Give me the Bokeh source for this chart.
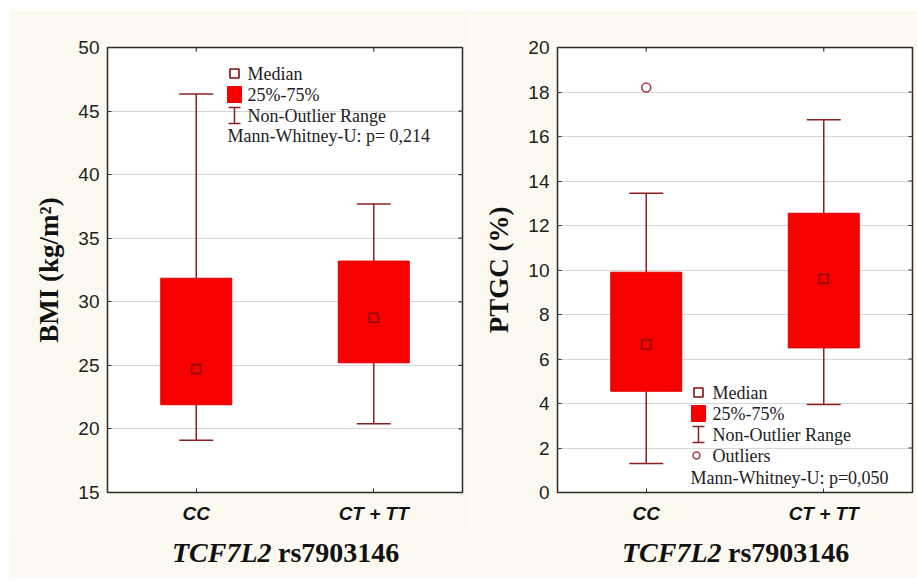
import math
from bokeh.plotting import figure
from bokeh.layouts import row, column
from bokeh.models import (Range1d, Whisker, TeeHead, ColumnDataSource, Label, FixedTicker)
from bokeh.core.properties import value
from bokeh.embed import file_html
from bokeh.resources import INLINE

# ---------------- data ----------------
categories = ["CC", "CT + TT"]

bmi_min = [19.1, 20.4]
bmi_q1 = [21.9, 25.2]
bmi_median = [24.7, 28.75]
bmi_q3 = [31.85, 33.2]
bmi_max = [46.35, 37.7]
bmi_ticks = [15, 20, 25, 30, 35, 40, 45, 50]

ptgc_min = [1.3, 3.95]
ptgc_q1 = [4.55, 6.5]
ptgc_median = [6.65, 9.6]
ptgc_q3 = [9.9, 12.55]
ptgc_max = [13.45, 16.75]
ptgc_outlier_cat = ["CC"]
ptgc_outlier_val = [18.2]
ptgc_ticks = [0, 2, 4, 6, 8, 10, 12, 14, 16, 18, 20]

gene_name = "TCF7L2"
snp_name = "rs7903146"

# category positions on the x scale (centre of each category slot)
cat_pos = [i + 0.5 for i in range(len(categories))]
cat_index = {c: x for c, x in zip(categories, cat_pos)}

# ---------------- styles ----------------
BG = "#fcf9f0"
RED = "#f60000"
DARK = "#8b2020"
MED = "#8a0c0c"
OUTC = "#a0404a"
TICKC = "#333333"
SERIF = "Liberation Serif"
SANS = "Liberation Sans"

FRAME_W, FRAME_H = 355, 445
PANEL_H = 520
TOP_B, BOT_B = 37, 38


def make_panel(width, left, right, ylabel, yr, ticks, mn, q1, med, q3, mx, legend, ptext,
               outl=None):
    p = figure(width=width, height=PANEL_H, x_range=Range1d(0, len(categories)),
               y_range=Range1d(*yr), output_backend="svg", toolbar_location=None,
               min_border_left=left, min_border_right=right, min_border_top=TOP_B,
               min_border_bottom=BOT_B)
    p.background_fill_color = "white"
    p.border_fill_color = BG
    p.outline_line_color = "#2a2a2a"
    p.outline_line_width = 1.5
    p.xgrid.visible = False
    p.ygrid.grid_line_color = "#d6d6d6"
    p.ygrid.grid_line_width = 1

    yax = p.yaxis[0]
    yax.ticker = FixedTicker(ticks=ticks)
    yax.axis_label = ylabel
    yax.axis_label_text_font = SERIF
    yax.axis_label_text_font_style = "bold"
    yax.axis_label_text_font_size = "27px"
    yax.axis_label_text_color = "#111111"
    yax.axis_label_standoff = 11
    yax.major_label_text_font = SANS
    yax.major_label_text_font_size = "19px"
    yax.major_label_text_color = "#222222"
    yax.major_label_standoff = 8
    yax.major_tick_in = 4
    yax.major_tick_out = 0
    yax.minor_tick_line_color = None
    yax.axis_line_color = None
    yax.major_tick_line_color = TICKC

    xax = p.xaxis[0]
    xax.ticker = FixedTicker(ticks=cat_pos)
    xax.major_label_overrides = {x: c for x, c in zip(cat_pos, categories)}
    xax.major_label_text_font = SANS
    xax.major_label_text_font_style = "bold italic"
    xax.major_label_text_font_size = "19px"
    xax.major_label_text_color = "#111111"
    xax.major_label_standoff = 10
    xax.major_tick_in = 4
    xax.major_tick_out = 0
    xax.minor_tick_line_color = None
    xax.axis_line_color = None
    xax.major_tick_line_color = TICKC

    # inward ticks on the top and right frame edges (half of each dash is clipped away)
    p.scatter(x=cat_pos, y=[yr[1]] * len(cat_pos), marker="dash", angle=math.pi / 2,
              size=8, line_color=TICKC, line_width=1.2)
    p.scatter(x=[len(categories)] * len(ticks), y=ticks, marker="dash", size=8,
              line_color=TICKC, line_width=1.2)

    src = ColumnDataSource(dict(x=cat_pos, mn=mn, q1=q1, med=med, q3=q3, mx=mx))
    p.vbar(x="x", top="q3", bottom="q1", width=0.4, source=src, fill_color=RED,
           line_color="#e00000", line_width=1)
    up = Whisker(base="x", lower="q3", upper="mx", source=src, dimension="height",
                 line_color=DARK, line_width=1.5, lower_head=None,
                 upper_head=TeeHead(size=34, line_color=DARK, line_width=1.5))
    lo = Whisker(base="x", lower="mn", upper="q1", source=src, dimension="height",
                 line_color=DARK, line_width=1.5, upper_head=None,
                 lower_head=TeeHead(size=34, line_color=DARK, line_width=1.5))
    p.add_layout(up)
    p.add_layout(lo)
    p.scatter(x="x", y="med", source=src, marker="square", size=9, fill_color=None,
              line_color=MED, line_width=1.6)
    if outl is not None:
        p.scatter(x=[cat_index[c] for c in outl[0]], y=outl[1], marker="circle", size=9,
                  fill_color=None, line_color=OUTC, line_width=1.6)

    # pixel-space ranges for the legend block
    p.extra_x_ranges = {"px": Range1d(0, FRAME_W)}
    p.extra_y_ranges = {"px": Range1d(0, FRAME_H)}
    kw = dict(x_range_name="px", y_range_name="px")

    ix, tx = legend["icon_x"], legend["text_x"]
    for name, yy in zip(legend["names"], legend["rows"]):
        if name == "Median":
            p.scatter(x=[ix], y=[yy], marker="square", size=9, fill_color=None,
                      line_color=MED, line_width=1.6, **kw)
        elif name == "25%-75%":
            p.rect(x=[ix], y=[yy], width=14, height=16, fill_color=RED, line_color=RED, **kw)
        elif name == "Non-Outlier Range":
            p.segment(x0=[ix, ix - 6, ix - 6], y0=[yy - 8, yy + 8, yy - 8],
                      x1=[ix, ix + 6, ix + 6], y1=[yy + 8, yy + 8, yy - 8],
                      line_color=DARK, line_width=1.5, **kw)
        elif name == "Outliers":
            p.scatter(x=[ix - 2], y=[yy], marker="circle", size=7, fill_color=None,
                      line_color=OUTC, line_width=1.5, **kw)
        p.add_layout(Label(x=tx, y=yy, text=name, text_font=SERIF, text_font_size="18px",
                           text_color="#222222", text_baseline="middle", **kw))
    p.add_layout(Label(x=legend["p_x"], y=legend["p_y"], text=ptext, text_font=SERIF,
                       text_font_size="18px", text_color="#222222",
                       text_baseline="middle", **kw))
    return p


W1, L1, R1 = 461, 98, 8
W2, L2, R2 = 447, 87, 5

p1 = make_panel(W1, L1, R1, "BMI (kg/m²)", (15, 50), bmi_ticks,
                bmi_min, bmi_q1, bmi_median, bmi_q3, bmi_max,
                dict(icon_x=127, text_x=140, rows=[419, 398, 377],
                     names=["Median", "25%-75%", "Non-Outlier Range"], p_x=120, p_y=357),
                "Mann-Whitney-U: p= 0,214")
p2 = make_panel(W2, L2, R2, "PTGC (%)", (0, 20), ptgc_ticks,
                ptgc_min, ptgc_q1, ptgc_median, ptgc_q3, ptgc_max,
                dict(icon_x=141, text_x=155, rows=[100, 79, 58, 37],
                     names=["Median", "25%-75%", "Non-Outlier Range", "Outliers"],
                     p_x=133, p_y=15),
                "Mann-Whitney-U: p=0,050",
                outl=(ptgc_outlier_cat, ptgc_outlier_val))

# ---------------- strip holding the two x-axis titles ----------------
STRIP_W, STRIP_H = W1 + W2, 47
strip = figure(width=STRIP_W, height=STRIP_H, x_range=Range1d(0, STRIP_W),
               y_range=Range1d(0, STRIP_H), output_backend="svg", toolbar_location=None,
               min_border=0)
strip.axis.visible = False
strip.grid.visible = False
strip.outline_line_color = None
strip.background_fill_color = BG
strip.border_fill_color = BG

centres = [L1 + FRAME_W / 2, W1 + L2 + FRAME_W / 2]
gene_x = [c - 113 for c in centres]
snp_x = [g + 106 for g in gene_x]
strip.text(x=gene_x, y=[25, 25], text=[gene_name] * 2, text_font=value(SERIF),
           text_font_style="bold italic", text_font_size="28px", text_color="#111111",
           text_baseline="middle", text_align="left")
strip.text(x=snp_x, y=[25, 25], text=[snp_name] * 2, text_font=value(SERIF),
           text_font_style="bold", text_font_size="28px", text_color="#111111",
           text_baseline="middle", text_align="left")

layout = column(row(p1, p2), strip, margin=(10, 0, 4, 9))
open("out.html", "w").write(file_html(layout, INLINE))
